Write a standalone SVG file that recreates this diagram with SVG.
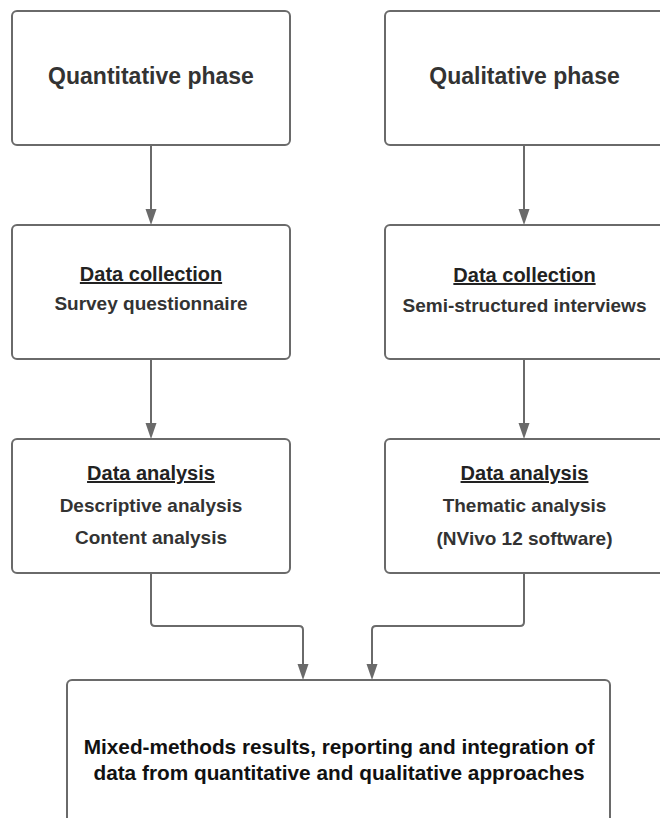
<svg xmlns="http://www.w3.org/2000/svg" width="660" height="818" viewBox="0 0 660 818">
<style>
.box{fill:#fff;stroke:#6a6a6a;stroke-width:2}
.t{font-family:"Liberation Sans",Arial,sans-serif;font-weight:bold;fill:#333;text-anchor:middle}
.big{font-size:23px}
.h{font-size:20px;fill:#222;text-decoration:underline}
.s{font-size:19px}
.m{font-size:20.8px;fill:#111}
.c{fill:none;stroke:#6a6a6a;stroke-width:2}
</style>
<defs>
<marker id="ah" markerUnits="userSpaceOnUse" markerWidth="16" markerHeight="12" refX="13" refY="6" orient="auto" viewBox="0 0 16 12">
<path d="M0,0.5 L16,6 L0,11.5 Z" fill="#6a6a6a"/>
</marker>
</defs>
<rect width="660" height="818" fill="#fff"/>
<g id="connectors">
<path class="c" d="M151,145 V222" marker-end="url(#ah)"/>
<path class="c" d="M524,145 V222" marker-end="url(#ah)"/>
<path class="c" d="M151,359 V436" marker-end="url(#ah)"/>
<path class="c" d="M524,359 V436" marker-end="url(#ah)"/>
<path class="c" d="M151,573 V622 Q151,626 155,626 H299 Q303,626 303,630 V677" marker-end="url(#ah)"/>
<path class="c" d="M524,573 V622 Q524,626 520,626 H376 Q372,626 372,630 V677" marker-end="url(#ah)"/>
</g>
<g id="quant-phase">
<rect class="box" x="12" y="11" width="278" height="134" rx="5"/>
<text class="t big" x="151" y="84">Quantitative phase</text>
</g>
<g id="qual-phase">
<rect class="box" x="385" y="11" width="285" height="134" rx="5"/>
<text class="t big" x="524.5" y="84">Qualitative phase</text>
</g>
<g id="quant-collection">
<rect class="box" x="12" y="225" width="278" height="134" rx="5"/>
<text class="t h" x="151" y="281">Data collection</text>
<text class="t s" x="151" y="310">Survey questionnaire</text>
</g>
<g id="qual-collection">
<rect class="box" x="385" y="225" width="285" height="134" rx="5"/>
<text class="t h" x="524.5" y="282">Data collection</text>
<text class="t s" x="524.5" y="312">Semi-structured interviews</text>
</g>
<g id="quant-analysis">
<rect class="box" x="12" y="439" width="278" height="134" rx="5"/>
<text class="t h" x="151" y="480">Data analysis</text>
<text class="t s" x="151" y="512">Descriptive analysis</text>
<text class="t s" x="151" y="544">Content analysis</text>
</g>
<g id="qual-analysis">
<rect class="box" x="385" y="439" width="285" height="134" rx="5"/>
<text class="t h" x="524.5" y="480">Data analysis</text>
<text class="t s" x="524.5" y="512">Thematic analysis</text>
<text class="t s" x="524.5" y="545">(NVivo 12 software)</text>
</g>
<g id="mixed-results">
<rect class="box" x="67" y="680" width="543" height="160" rx="5"/>
<text class="t m" x="339" y="754">Mixed-methods results, reporting and integration of</text>
<text class="t m" x="339" y="780">data from quantitative and qualitative approaches</text>
</g>
</svg>
